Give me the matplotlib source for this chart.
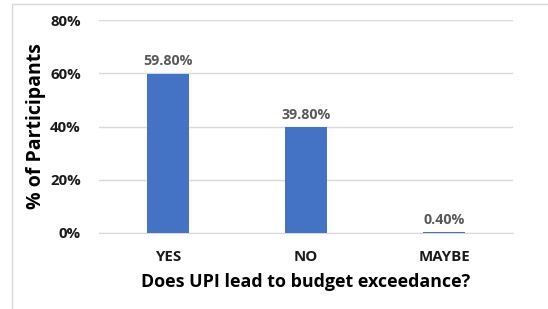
import matplotlib.pyplot as plt
from matplotlib.patches import Rectangle
from matplotlib.ticker import FuncFormatter

categories = ["YES", "NO", "MAYBE"]
values = [59.8, 39.8, 0.4]
labels = ["59.80%", "39.80%", "0.40%"]
yticks = [0, 20, 40, 60, 80]

plt.rcParams['font.family'] = ['Open Sans', 'DejaVu Sans']

fig = plt.figure(figsize=(5.48, 3.09), dpi=100)
W, H = 548, 309
ax = fig.add_axes([99 / W, 1 - 233 / H, (513 - 99) / W, (233 - 20) / H])

fig.patches.append(Rectangle((12 / W, -0.01), 1.0, (309 - 4) / H + 0.01, transform=fig.transFigure,
                             fill=False, edgecolor='#d9d9d9', linewidth=1.0))

x = list(range(len(categories)))
ax.bar(x, values, width=0.31, color='#4472C4', zorder=3)
for xi, v, lab in zip(x, values, labels):
    ax.text(xi, v + 2.0, lab, ha='center', va='bottom', fontsize=10.3,
            fontweight='bold', color='#595959')

ax.set_xlim(-0.5, 2.5)
ax.set_ylim(0, 80)
ax.set_yticks(yticks)
ax.yaxis.set_major_formatter(FuncFormatter(lambda v, p: f"{int(v)}%"))
ax.set_xticks(x)
ax.set_xticklabels(categories)
ax.grid(axis='y', color='#d9d9d9', linewidth=1.0, zorder=0)
for s in ['top', 'right', 'left']:
    ax.spines[s].set_visible(False)
ax.spines['bottom'].set_color('#d9d9d9')
ax.tick_params(axis='both', length=0, labelsize=10.8, labelcolor='#1a1a1a')
for t in ax.get_xticklabels() + ax.get_yticklabels():
    t.set_fontweight('bold')
ax.tick_params(axis='y', pad=13)
ax.tick_params(axis='x', pad=12)

ax.set_ylabel("% of Participants", fontsize=14, fontweight='bold', color='black', labelpad=3)
ax.set_xlabel("Does UPI lead to budget exceedance?", fontsize=12.9, fontweight='bold',
              color='black', labelpad=7)

fig.savefig("out.png", dpi=100)
